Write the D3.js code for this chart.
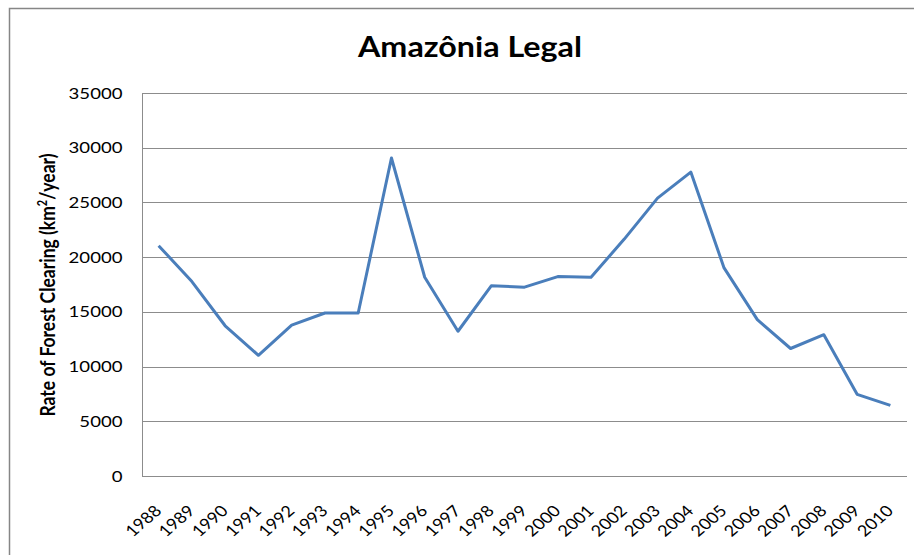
<!DOCTYPE html>
<html><head><meta charset="utf-8">
<script src="https://cdn.jsdelivr.net/npm/d3@7"></script>
<style>body{margin:0;background:#fff;}svg{display:block;}</style>
</head><body>
<script>
const years = ["1988","1989","1990","1991","1992","1993","1994","1995","1996","1997","1998","1999","2000","2001","2002","2003","2004","2005","2006","2007","2008","2009","2010"];
const clearing = [21050,17770,13730,11030,13786,14896,14896,29059,18161,13227,17383,17259,18226,18165,21651,25396,27772,19014,14286,11651,12911,7464,6451];
const yTicks = [0,5000,10000,15000,20000,25000,30000,35000];
const title = "Amazônia Legal";

const W = 914, H = 555;
const sx = 1.17; // horizontal stretch of the reference picture
const svg = d3.select("body").append("svg").attr("width", W).attr("height", H);
const font = "Lato, Carlito, 'Open Sans', sans-serif";

// chart frame
svg.append("path").attr("d", `M9.5,${H} L9.5,8.5 L${W},8.5`).attr("fill","none").attr("stroke","#868686").attr("stroke-width",1.5);

const m = {l:142, r:907, t:93, b:476};
const x = d3.scaleBand().domain(years).range([m.l, m.r]);
const y = d3.scaleLinear().domain([0,35000]).range([m.b, m.t]);

// gridlines
svg.append("g").selectAll("line").data(yTicks).join("line")
  .attr("x1", m.l).attr("x2", m.r)
  .attr("y1", d => Math.round(y(d))+0.5).attr("y2", d => Math.round(y(d))+0.5)
  .attr("stroke", "#8c8c8c").attr("stroke-width", 1);

// y axis line
svg.append("line").attr("x1", m.l+0.5).attr("x2", m.l+0.5).attr("y1", m.t).attr("y2", m.b+0.5)
  .attr("stroke","#8c8c8c");

// y tick labels
svg.append("g").selectAll("text").data(yTicks).join("text")
  .attr("transform", d => `translate(122.5,${y(d)}) scale(1.2,1)`)
  .attr("dy","0.36em")
  .attr("text-anchor","end").attr("font-family", font).attr("font-size", 15.5).attr("fill","#000")
  .text(d => d);

// x tick labels
svg.append("g").selectAll("text").data(years).join("text")
  .attr("transform", d => `translate(${x(d)+x.bandwidth()/2+4},${m.b+36}) scale(${sx},1) rotate(-45)`)
  .attr("text-anchor","end").attr("font-family", font).attr("font-size", 15.5).attr("fill","#000")
  .text(d => d);

// line
const line = d3.line().x((d,i) => x(years[i]) + x.bandwidth()/2).y(d => y(d));
svg.append("path").datum(clearing).attr("d", line).attr("fill","none")
  .attr("stroke","#4a7ebb").attr("stroke-width",3).attr("stroke-linejoin","round");

// title
svg.append("text").attr("x", 470).attr("y", 57).attr("text-anchor","middle")
  .attr("font-family", font).attr("font-weight","bold").attr("font-size", 29)
  .attr("textLength", 224).attr("lengthAdjust","spacingAndGlyphs").text(title);

// y axis title
const yt = svg.append("text").attr("transform", `translate(55,285) scale(${sx},1) rotate(-90)`)
  .attr("text-anchor","middle").attr("font-family", font).attr("font-weight","bold").attr("font-size", 17.5);
yt.append("tspan").text("Rate of Forest Clearing (km");
yt.append("tspan").attr("baseline-shift","super").attr("font-size",11).text("2");
yt.append("tspan").attr("baseline-shift","0").text("/year)");
</script>
</body></html>
